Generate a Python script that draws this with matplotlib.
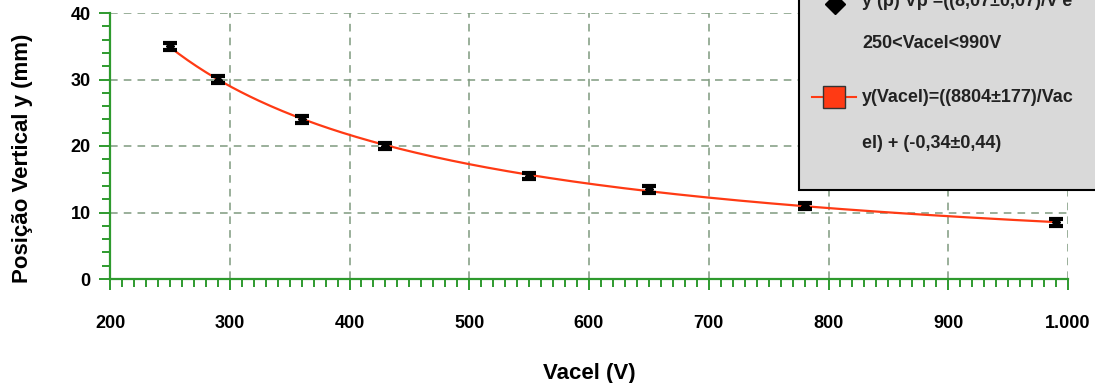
import numpy as np
import matplotlib.pyplot as plt
from matplotlib.patches import Rectangle
from matplotlib.lines import Line2D
from matplotlib.ticker import MultipleLocator, FuncFormatter

plt.rcParams['font.family'] = ['Liberation Sans', 'DejaVu Sans']
plt.rcParams['font.weight'] = 'bold'

# measured points
vacel = [250, 290, 360, 430, 550, 650, 780, 990]
y_mm = [35.0, 30.0, 24.0, 20.0, 15.5, 13.5, 11.0, 8.5]
y_err = [0.5, 0.5, 0.5, 0.5, 0.5, 0.5, 0.5, 0.5]

# fit y = a/V + b
fit_a = 8804
fit_b = -0.34

legend_lines = ["y (p) Vp =((8,07±0,07)/V'e", "250<Vacel<990V",
                "y(Vacel)=((8804±177)/Vac", "el) + (-0,34±0,44)"]

green = '#2e9a2e'
grid_c = '#7f9a7f'
red = '#ff3a14'

fig = plt.figure(figsize=(10.95, 3.83), dpi=100)
ax = fig.add_axes([110 / 1095, 1 - 279 / 383, (1068 - 110) / 1095, (279 - 13) / 383])

vv = np.linspace(vacel[0], vacel[-1], 300)
ax.plot(vv, fit_a / vv + fit_b, color=red, lw=1.6, zorder=3)
ax.errorbar(vacel, y_mm, yerr=y_err, fmt='D', color='black', ms=4.5,
            capsize=5, capthick=3, elinewidth=2, zorder=4)

ax.set_xlim(200, 1000)
ax.set_ylim(0, 40)
ax.xaxis.set_major_locator(MultipleLocator(100))
ax.xaxis.set_minor_locator(MultipleLocator(10))
ax.yaxis.set_major_locator(MultipleLocator(10))
ax.yaxis.set_minor_locator(MultipleLocator(2))
ax.xaxis.set_major_formatter(FuncFormatter(
    lambda v, p: f"{v:,.0f}".replace(',', '.')))

for s in ['top', 'right']:
    ax.spines[s].set_visible(False)
for s in ['left', 'bottom']:
    ax.spines[s].set_color(green)
    ax.spines[s].set_linewidth(1.6)

ax.tick_params(which='major', direction='out', length=8, width=1.4,
               color=green, labelsize=13, pad=18)
ax.tick_params(which='minor', direction='out', length=5.5, width=1.4, color=green)
ax.tick_params(axis='y', which='major', pad=6)
ax.grid(True, which='major', linestyle=(0, (5, 4)), color=grid_c, lw=1.1)

ax.set_xlabel('Vacel (V)', fontsize=16, fontweight='bold', labelpad=22)
ax.set_ylabel('Posição Vertical y (mm)', fontsize=16, fontweight='bold')
ax.yaxis.set_label_coords(-0.08, 0.455)

# legend box, partly outside the figure as in the original
x0 = 799 / 1095
y0 = 1 - 190 / 383
fig.patches.append(Rectangle((x0, y0), 0.4, 0.6, transform=fig.transFigure,
                             facecolor='#d9d9d9', edgecolor='black', lw=1.5,
                             zorder=10))
tx = 862 / 1095
ys = [2, 44, 97, 144]
for t, yp in zip(legend_lines, ys):
    fig.text(tx, 1 - yp / 383, t, fontsize=13, fontweight='bold',
             va='center', ha='left', color='#222222', zorder=11)
fig.lines.append(Line2D([835 / 1095], [1 - 4 / 383], marker='D', ms=10,
                        color='black', transform=fig.transFigure, zorder=11))
fig.lines.append(Line2D([812 / 1095, 856 / 1095], [1 - 97 / 383] * 2,
                        color=red, lw=1.5, zorder=11,
                        transform=fig.transFigure))
fig.lines.append(Line2D([834 / 1095], [1 - 97 / 383], marker='s', ms=16,
                        markerfacecolor=red, markeredgecolor='#333333',
                        transform=fig.transFigure, zorder=12))

fig.savefig('out.png', dpi=100)
